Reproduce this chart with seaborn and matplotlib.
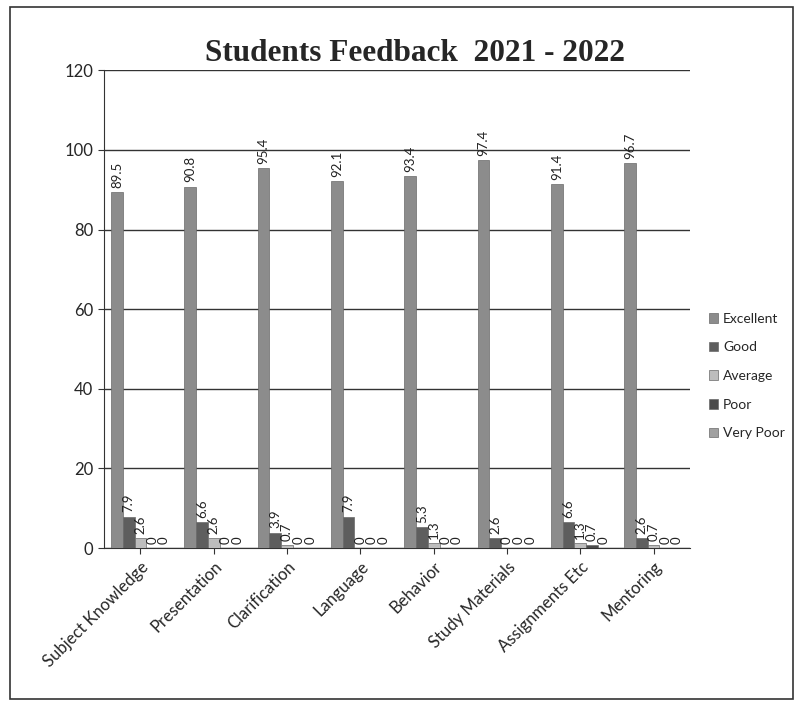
import matplotlib
matplotlib.use("Agg")
import matplotlib.pyplot as plt
import seaborn as sns
import pandas as pd
from matplotlib.patches import Rectangle

categories = ["Subject Knowledge", "Presentation", "Clarification", "Language",
              "Behavior", "Study Materials", "Assignments Etc", "Mentoring"]
series = ["Excellent", "Good", "Average", "Poor", "Very Poor"]
excellent = [89.5, 90.8, 95.4, 92.1, 93.4, 97.4, 91.4, 96.7]
good = [7.9, 6.6, 3.9, 7.9, 5.3, 2.6, 6.6, 2.6]
average = [2.6, 2.6, 0.7, 0, 1.3, 0, 1.3, 0.7]
poor = [0, 0, 0, 0, 0, 0, 0.7, 0]
very_poor = [0, 0, 0, 0, 0, 0, 0, 0]

vals = [excellent, good, average, poor, very_poor]
rows = []
for s, v in zip(series, vals):
    for c, x in zip(categories, v):
        rows.append({"Category": c, "Rating": s, "Value": x})
df = pd.DataFrame(rows)

sns.set_style("white")
plt.rcParams['font.family'] = ['Lato', 'DejaVu Sans']

fig = plt.figure(figsize=(7.98, 7.10), dpi=100)
ax = fig.add_axes([0.13, 0.228, 0.735, 0.673])

palette = ["#8c8c8c", "#5e5e5e", "#bdbdbd", "#4a4a4a", "#a0a0a0"]
sns.barplot(data=df, x="Category", y="Value", hue="Rating", palette=palette,
            width=0.8, ax=ax, edgecolor="#6a6a6a", linewidth=0.5, zorder=3)

for cont in ax.containers:
    labels = [("%g" % b.get_height()) for b in cont]
    ax.bar_label(cont, labels=labels, rotation=90, padding=3, fontsize=9.5, color="#222")

ax.set_ylim(0, 120)
ax.set_yticks(range(0, 121, 20))
ax.yaxis.grid(True, color="#333", linewidth=1.0, zorder=0)
ax.set_axisbelow(True)
ax.set_xlabel("")
ax.set_ylabel("")
for side in ["top", "right"]:
    ax.spines[side].set_visible(False)
ax.spines["left"].set_color("#333")
ax.spines["bottom"].set_color("#333")
ax.tick_params(axis="y", labelsize=12, left=True, length=4, color="#333")
ax.tick_params(axis="x", labelsize=12, bottom=True, length=4, color="#333")
plt.setp(ax.get_xticklabels(), rotation=45, ha="right", rotation_mode="anchor")

leg = ax.legend(loc="center left", bbox_to_anchor=(1.01, 0.36), frameon=False,
                fontsize=10, handlelength=0.7, handleheight=0.7, labelspacing=1.2,
                handletextpad=0.35)

fig.suptitle("Students Feedback  2021 - 2022", x=0.52, y=0.945,
             fontsize=22.5, fontweight="bold", family="Liberation Serif")

fig.patches.append(Rectangle((0.012, 0.015), 0.982, 0.975, transform=fig.transFigure,
                             fill=False, edgecolor="#333", linewidth=1.2))

fig.savefig("out.png", dpi=100, facecolor="white")
